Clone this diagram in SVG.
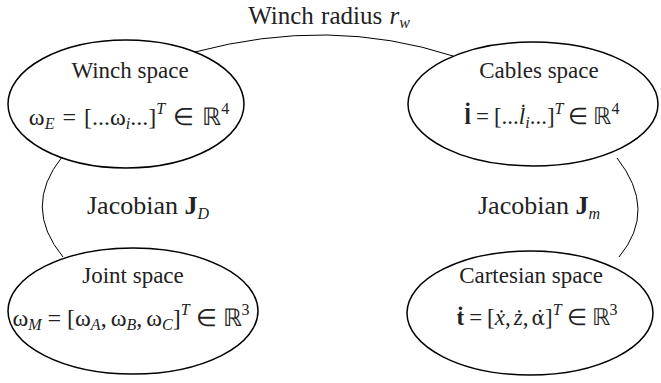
<svg xmlns="http://www.w3.org/2000/svg" width="661" height="383" viewBox="0 0 661 383">
<style>
.n{fill:none;stroke:#000;stroke-width:1.5}
.c{fill:none;stroke:#000;stroke-width:1}
text{font-family:"Liberation Serif","Times New Roman",serif;font-size:23px;fill:#222;text-anchor:middle}
.e{font-size:26px}
.t{font-size:25px;word-spacing:1px}
.f{font-size:24px}
.i{font-style:italic}
.b{font-weight:bold}
.s{font-size:16px}
.d{font-family:"DejaVu Serif",serif;font-size:20px}
</style>
<rect width="661" height="383" fill="#fff"/>
<g id="connectors">
<path class="c" d="M195 52 Q330 16 453 56"/>
<path class="c" d="M62 157 Q22 207 63 257"/>
<path class="c" d="M617 158 Q658 210 619 257"/>
<text class="t" x="329" y="24">Winch radius <tspan class="i">r</tspan><tspan class="i s" dy="4">w</tspan></text>
<text class="e" x="148" y="214">Jacobian <tspan class="b">J</tspan><tspan class="i s" dy="5">D</tspan></text>
<text class="e" x="539" y="214">Jacobian <tspan class="b">J</tspan><tspan class="i s" dy="5">m</tspan></text>
</g>
<g id="winch">
<ellipse class="n" cx="126" cy="104" rx="118" ry="64"/>
<text x="130" y="78">Winch space</text>
<text class="f" x="129" y="125">ω<tspan class="i s" dy="4">E</tspan><tspan dx="8" dy="-4">=</tspan><tspan dx="8">[...ω</tspan><tspan class="i s" dy="4">i</tspan><tspan dy="-4">...]</tspan><tspan class="i s" dy="-11">T</tspan><tspan dx="8" dy="11">∈</tspan><tspan dx="8">ℝ</tspan><tspan class="s" dy="-11">4</tspan></text>
</g>
<g id="cables">
<ellipse class="n" cx="533" cy="104" rx="125" ry="62"/>
<text x="539" y="78">Cables space</text>
<text x="542" y="124"><tspan class="b">l̇</tspan><tspan dx="5">=</tspan><tspan dx="5">[...</tspan><tspan class="i">l̇</tspan><tspan class="i s" dy="4">i</tspan><tspan dy="-4">...]</tspan><tspan class="i s" dy="-10">T</tspan><tspan dx="5" dy="10">∈</tspan><tspan dx="5">ℝ</tspan><tspan class="s" dy="-10">4</tspan></text>
</g>
<g id="joint">
<ellipse class="n" cx="133" cy="311" rx="125" ry="63"/>
<text x="133" y="283">Joint space</text>
<text class="f" x="131" y="326">ω<tspan class="i s" dy="4">M</tspan><tspan dx="6" dy="-4">=</tspan><tspan dx="6">[ω</tspan><tspan class="i s" dy="4">A</tspan><tspan dy="-4">,</tspan><tspan dx="4">ω</tspan><tspan class="i s" dy="4">B</tspan><tspan dy="-4">,</tspan><tspan dx="4">ω</tspan><tspan class="i s" dy="4">C</tspan><tspan dy="-4">]</tspan><tspan class="i s" dy="-11">T</tspan><tspan dx="6" dy="11">∈</tspan><tspan dx="6">ℝ</tspan><tspan class="s" dy="-11">3</tspan></text>
</g>
<g id="cartesian">
<ellipse class="n" cx="530" cy="313" rx="123" ry="62"/>
<text x="531" y="283">Cartesian space</text>
<text x="537" y="325"><tspan class="b">ṫ</tspan><tspan dx="5">=</tspan><tspan dx="5">[</tspan><tspan class="i">ẋ</tspan>,<tspan class="i" dx="3">ż</tspan>,<tspan class="d" dx="3">α̇</tspan>]<tspan class="i s" dy="-10">T</tspan><tspan dx="5" dy="10">∈</tspan><tspan dx="5">ℝ</tspan><tspan class="s" dy="-10">3</tspan></text>
</g>
</svg>
